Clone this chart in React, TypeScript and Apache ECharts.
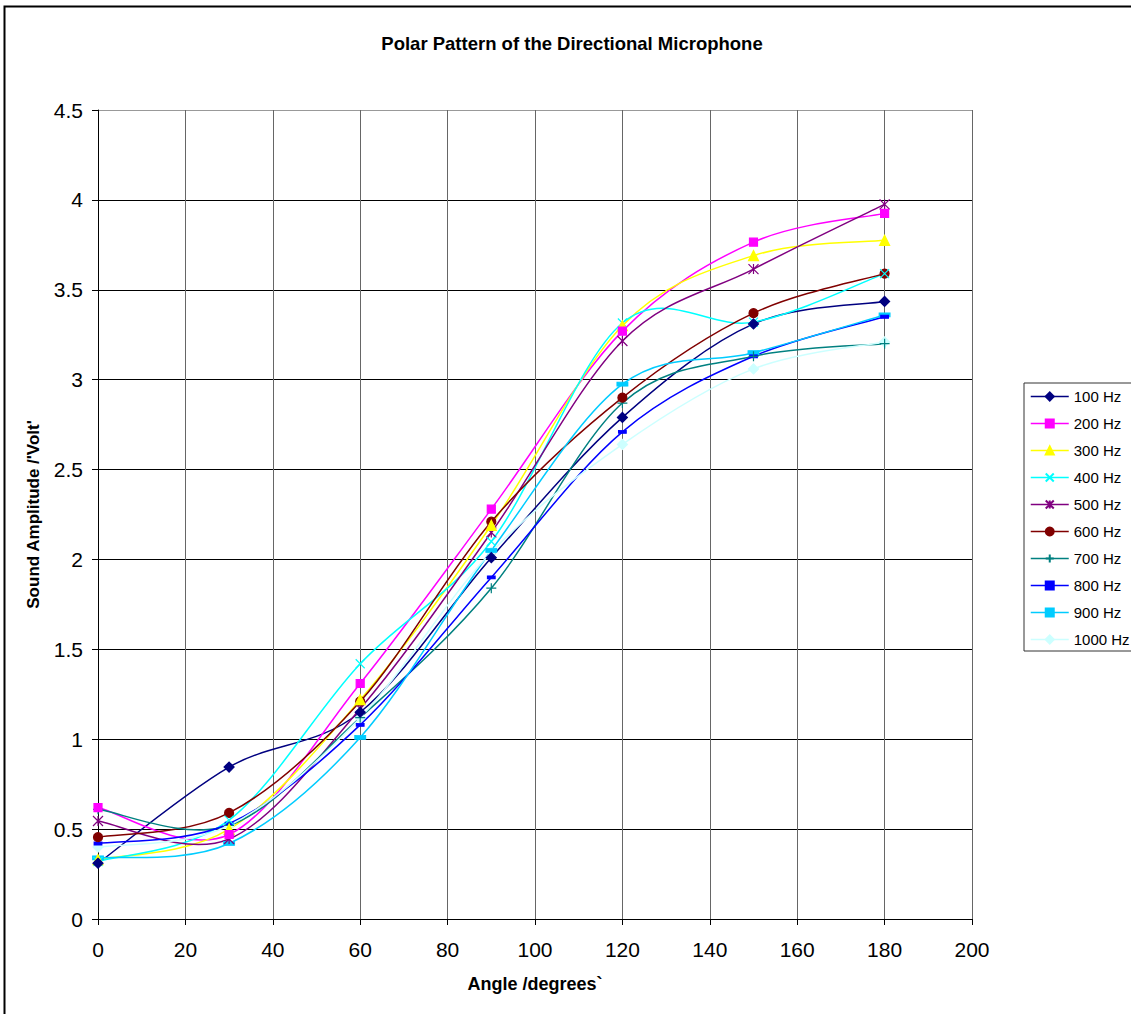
import React, { useEffect, useRef } from "react";
import * as echarts from "echarts";

const angles = [0, 30, 60, 90, 120, 150, 180];
const seriesNames = ["100 Hz", "200 Hz", "300 Hz", "400 Hz", "500 Hz", "600 Hz", "700 Hz", "800 Hz", "900 Hz", "1000 Hz"];
const hz100 = [0.31, 0.845, 1.15, 2.01, 2.79, 3.31, 3.435];
const hz200 = [0.62, 0.47, 1.31, 2.28, 3.27, 3.765, 3.925];
const hz300 = [0.33, 0.5, 1.22, 2.19, 3.3, 3.69, 3.775];
const hz400 = [0.32, 0.55, 1.42, 2.1, 3.315, 3.32, 3.59];
const hz500 = [0.545, 0.445, 1.17, 2.15, 3.215, 3.615, 3.975];
const hz600 = [0.455, 0.59, 1.21, 2.21, 2.9, 3.37, 3.59];
const hz700 = [0.61, 0.52, 1.12, 1.84, 2.87, 3.13, 3.2];
const hz800 = [0.42, 0.53, 1.08, 1.9, 2.71, 3.13, 3.35];
const hz900 = [0.34, 0.42, 1.01, 2.05, 2.975, 3.15, 3.36];
const hz1000 = [0.4, 0.52, 1.12, 2.04, 2.64, 3.06, 3.21];
const allValues = [hz100, hz200, hz300, hz400, hz500, hz600, hz700, hz800, hz900, hz1000];

const colors = ["#000080", "#FF00FF", "#FFFF00", "#00FFFF", "#800080", "#800000", "#008080", "#0000FF", "#00CCFF", "#CCFFFF"];

const X_PATH = "path://M0,0L10,10M10,0L0,10";
const STAR_PATH = "path://M0,0L10,10M10,0L0,10M5,0L5,10";
const PLUS_PATH = "path://M5,0L5,10M0,5L10,5";
const symbols: any[] = ["diamond", "rect", "triangle", X_PATH, STAR_PATH, "circle", PLUS_PATH, "rect", "rect", "diamond"];
const symbolSizes: any[] = [10, 8, 10, 9, 10, 9, 10, [7, 3], [10, 4], 10];

const FONT = "Liberation Sans, Arial, sans-serif";

export default function App() {
  const ref = useRef<HTMLDivElement>(null);
  useEffect(() => {
    document.body.style.margin = "0";
    const chart = echarts.init(ref.current!, null, { renderer: "svg" });

    // Smooth curves (Catmull-Rom style, like Excel's smoothed lines), positioned via the axes' scales
    const curveSeries = seriesNames.map((name, i) => ({
      name: name + " curve",
      type: "custom",
      coordinateSystem: "cartesian2d",
      z: 2,
      silent: true,
      data: angles.map((a, j) => [a, allValues[i][j]]),
      encode: { x: 0, y: 1 },
      renderItem: (params: any, api: any) => {
        const n = angles.length;
        const j = params.dataIndexInside;
        if (j >= n - 1) return null;
        const P = (k: number) => {
          const kk = Math.max(0, Math.min(n - 1, k));
          return api.coord([api.value(0, kk), api.value(1, kk)]);
        };
        const p0 = P(j - 1), p1 = P(j), p2 = P(j + 1), p3 = P(j + 2);
        return {
          type: "bezierCurve",
          shape: {
            x1: p1[0], y1: p1[1],
            x2: p2[0], y2: p2[1],
            cpx1: p1[0] + (p2[0] - p0[0]) / 6,
            cpy1: p1[1] + (p2[1] - p0[1]) / 6,
            cpx2: p2[0] - (p3[0] - p1[0]) / 6,
            cpy2: p2[1] - (p3[1] - p1[1]) / 6,
          },
          style: { stroke: colors[i], lineWidth: 1.5, fill: null },
        };
      },
    }));

    const markerSeries = seriesNames.map((name, i) => ({
      name,
      type: "line",
      data: angles.map((a, j) => [a, allValues[i][j]]),
      symbol: symbols[i],
      symbolSize: symbolSizes[i],
      showAllSymbol: true,
      lineStyle: { color: colors[i], width: 1.5, opacity: 0 },
      itemStyle: { color: colors[i], borderColor: colors[i], borderWidth: 1.2 },
      z: 20 - i,
    }));

    chart.setOption({
      animation: false,
      backgroundColor: "#fff",
      textStyle: { fontFamily: FONT },
      grid: { left: 98, right: 159, top: 110, bottom: 95, containLabel: false },
      graphic: [
        {
          type: "rect",
          shape: { x: 4.5, y: 6.5, width: 1200, height: 1100 },
          style: { fill: "none", stroke: "#000", lineWidth: 2 },
          silent: true,
        },
        {
          type: "text",
          x: 572,
          y: 43,
          style: {
            text: "Polar Pattern of the Directional Microphone",
            font: "bold 18.5px " + FONT,
            fill: "#000",
            textAlign: "center",
            textVerticalAlign: "middle",
          },
        },
      ],
      legend: {
        orient: "vertical",
        left: 1024,
        top: 383,
        itemWidth: 38,
        itemHeight: 10,
        itemGap: 12,
        padding: [6, 60, 4, 6],
        borderColor: "#333",
        borderWidth: 1,
        lineStyle: { opacity: 1, width: 1.5 },
        textStyle: { fontSize: 15, color: "#000", fontFamily: FONT, lineHeight: 15 },
        data: seriesNames,
      },
      xAxis: {
        type: "value",
        min: 0,
        max: 200,
        interval: 20,
        name: "Angle /degrees`",
        nameLocation: "middle",
        nameGap: 56,
        nameTextStyle: { fontWeight: "bold", fontSize: 18, color: "#000", fontFamily: FONT },
        axisLine: { show: true, onZero: false, lineStyle: { color: "#000", width: 1 } },
        axisTick: { show: true, length: 6, inside: false, lineStyle: { color: "#000" } },
        axisLabel: { fontSize: 21, color: "#000", margin: 20, fontFamily: FONT },
        splitLine: { show: true, lineStyle: { color: "#666", width: 1 } },
      },
      yAxis: {
        type: "value",
        min: 0,
        max: 4.5,
        interval: 0.5,
        name: "Sound Amplitude /'Volt'",
        nameLocation: "middle",
        nameGap: 56,
        nameTextStyle: { fontWeight: "bold", fontSize: 17, color: "#000", fontFamily: FONT },
        axisLine: { show: true, lineStyle: { color: "#000", width: 1 } },
        axisTick: { show: true, length: 6, inside: false, lineStyle: { color: "#000" } },
        axisLabel: { fontSize: 21, color: "#000", margin: 15, fontFamily: FONT },
        splitLine: {
          show: true,
          lineStyle: { color: ["#000", "#000", "#000", "#000", "#000", "#000", "#000", "#000", "#000", "#999"], width: 1 },
        },
      },
      series: [...curveSeries, ...markerSeries],
    });
    return () => chart.dispose();
  }, []);
  return <div ref={ref} style={{ width: 1131, height: 1014 }} />;
}
